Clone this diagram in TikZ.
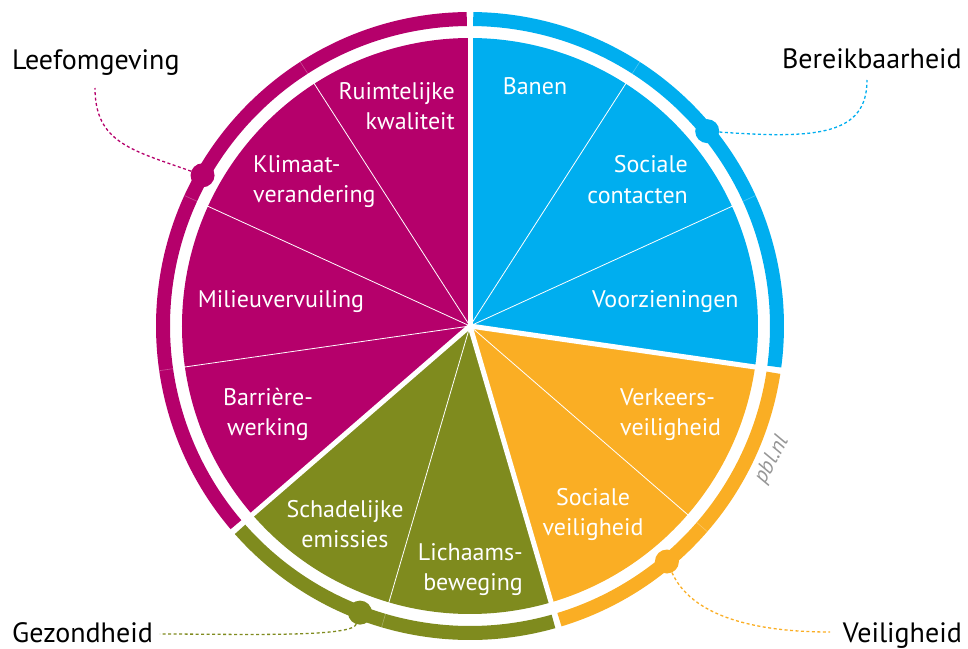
\documentclass[tikz,border=0pt]{standalone}
\usepackage{fontspec}
\setmainfont{PT Sans}
\definecolor{pblmagenta}{RGB}{181,0,107}
\definecolor{pblblue}{RGB}{0,174,239}
\definecolor{pblorange}{RGB}{250,174,36}
\definecolor{pblgreen}{RGB}{127,139,30}
\definecolor{pblgray}{RGB}{150,150,150}
\tikzset{
  sector label/.style={text=white, inner sep=0pt, font=\fontsize{24}{30}\selectfont},
  theme label/.style={inner sep=0pt, font=\fontsize{28}{32}\selectfont},
  ring/.style={line width=14pt},
  theme dot/.style={circle, fill, inner sep=0pt, minimum size=24pt},
  link/.style={line width=1.3pt, dash pattern=on 3pt off 2.5pt},
}
\usetikzlibrary{positioning}
\begin{document}
\begin{tikzpicture}[x=1pt, y=1pt]
    \useasboundingbox (-470,-322) rectangle (498,326);

    % pie
    \fill[pblblue] (0,0) -- (90:288) arc[start angle=90, end angle=-8.18, radius=288] -- cycle;
    \fill[pblorange] (0,0) -- (-8.18:288) arc[start angle=-8.18, end angle=-73.64, radius=288] -- cycle;
    \fill[pblgreen] (0,0) -- (-73.64:288) arc[start angle=-73.64, end angle=-139.09, radius=288] -- cycle;
    \fill[pblmagenta] (0,0) -- (-139.09:288) arc[start angle=220.91, end angle=90, radius=288] -- cycle;

    \foreach \a in {57.27, 24.55, -40.91, -106.36, -171.82, 155.45, 122.73}
        \draw[white, line width=0.8pt] (0,0) -- (\a:292);
    \foreach \a in {90, -8.18, -73.64, -139.09}
        \draw[white, line width=5pt] (0,0) -- (\a:292);

    % ring
    \draw[ring, pblblue] (89.4:307) arc[start angle=89.4, end angle=-7.6, radius=307];
    \draw[ring, pblorange] (-8.76:307) arc[start angle=-8.76, end angle=-73.06, radius=307];
    \draw[ring, pblgreen] (-74.22:307) arc[start angle=-74.22, end angle=-138.51, radius=307];
    \draw[ring, pblmagenta] (90.6:307) arc[start angle=90.6, end angle=220.33, radius=307];
    \foreach \a in {57.27, 24.55, -40.91, -106.36, -171.82, 155.45, 122.73}
        \draw[white, opacity=0.3, line width=0.6pt] (\a:300) -- (\a:314);

    % sector labels
    \node[sector label, anchor=base] (banen) at (65,231) {Banen};
    \node[sector label, align=right, anchor=base east] (contacten) at (218,123) {Sociale\\contacten};
    \node[sector label, anchor=base west] (voorz) at (122,19) {Voorzieningen};
    \node[sector label, align=left, anchor=base west] (verkeer) at (150,-109) {Verkeers-\\veiligheid};
    \node[sector label, align=center, anchor=base] (socveilig) at (123,-209) {Sociale\\veiligheid};
    \node[sector label, align=right, anchor=base east] (beweging) at (53,-264) {Lichaams-\\beweging};
    \node[sector label, align=center, anchor=base] (emissies) at (-125,-221) {Schadelijke\\emissies};
    \node[sector label, align=center, anchor=base] (barriere) at (-202,-109) {Barrière-\\werking};
    \node[sector label, anchor=base] (milieu) at (-189,19) {Milieuvervuiling};
    \node[sector label, align=left, anchor=base west] (klimaat) at (-217,124) {Klimaat-\\verandering};
    \node[sector label, align=right, anchor=base east] (ruimte) at (-15,196) {Ruimtelijke\\kwaliteit};

    \node[text=pblgray, rotate=62, font=\fontsize{22}{24}\selectfont\itshape] (pbl) at (302,-134) {pbl.nl};

    % themes
    \node[theme label, anchor=base west] (leef) at (-458,256) {Leefomgeving};
    \node[theme label, anchor=base east] (bereik) at (492,257) {Bereikbaarheid};
    \node[theme label, anchor=base west] (gezond) at (-458,-316) {Gezondheid};
    \node[theme label, anchor=base east] (veilig) at (492,-316) {Veiligheid};

    \coordinate (leefend) at (-375,238);
    \coordinate (bereikend) at (397,246);
    \coordinate (gezondend) at (-310,-308);
    \coordinate (veiligend) at (360,-306);

    \node[theme dot, pblmagenta] (ldot) at (150.6:307) {};
    \node[theme dot, pblblue] (bdot) at (39.4:307) {};
    \node[theme dot, pblgreen] (gdot) at (-111:307) {};
    \node[theme dot, pblorange] (vdot) at (-50.1:307) {};

    \draw[link, pblmagenta] (ldot) .. controls +(-70,25) and +(0,-55) .. (leefend);
    \draw[link, pblblue] (bdot) .. controls +(110,-8) and +(0,-55) .. (bereikend);
    \draw[link, pblgreen] (gdot) .. controls +(-8,-25) and +(80,0) .. (gezondend);
    \draw[link, pblorange] (vdot) .. controls +(25,-55) and +(-75,0) .. (veiligend);
\end{tikzpicture}
\end{document}
